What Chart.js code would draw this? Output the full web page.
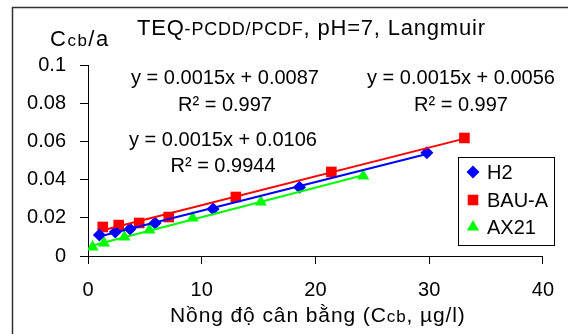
<!DOCTYPE html>
<html>
<head>
<meta charset="utf-8">
<script src="https://cdn.jsdelivr.net/npm/chart.js@4"></script>
<style>
html,body{margin:0;padding:0;background:#fff;}
canvas{display:block;}
</style>
</head>
<body>
<canvas id="c" width="568" height="334" style="width:568px;height:334px"></canvas>
<script>
// ---- data ----
const seriesNames = ['H2', 'BAU-A', 'AX21'];
const h2X   = [1.0, 2.4, 3.7, 5.9, 11.0, 18.6, 29.8];
const h2Y   = [0.0110, 0.0126, 0.0141, 0.0173, 0.0246, 0.0360, 0.0540];
const bauX  = [1.3, 2.7, 4.5, 7.1, 13.0, 21.4, 33.1];
const bauY  = [0.0152, 0.0162, 0.0173, 0.0204, 0.0309, 0.0440, 0.0618];
const ax21X = [0.4, 1.4, 3.2, 5.4, 9.2, 15.2, 24.2];
const ax21Y = [0.0047, 0.0068, 0.0099, 0.0136, 0.0199, 0.0283, 0.0419];
const xTicks = [0, 10, 20, 30, 40];
const xTickLabels = ['0', '10', '20', '30', '40'];
const yTicks = [0, 0.02, 0.04, 0.06, 0.08, 0.1];
const yTickLabels = ['0', '0.02', '0.04', '0.06', '0.08', '0.1'];
const equations = [
  ['y = 0.0015x + 0.0087', 'R² = 0.997'],
  ['y = 0.0015x + 0.0056', 'R² = 0.997'],
  ['y = 0.0015x + 0.0106', 'R² = 0.9944']
];

const FONT = '"Liberation Sans", Arial, sans-serif';
const colors = {'H2': '#0000FF', 'BAU-A': '#FF0000', 'AX21': '#00FF00'};
const styles = {'H2': 'rectRot', 'BAU-A': 'rect', 'AX21': 'triangle'};
const radii  = {'H2': 6.5, 'BAU-A': 7.5, 'AX21': 7};

function pts(xs, ys){ return xs.map((x,i)=>({x:x, y:ys[i]})); }
function fit(xs, ys){
  const n = xs.length;
  const mx = xs.reduce((a,b)=>a+b,0)/n, my = ys.reduce((a,b)=>a+b,0)/n;
  let sxy=0, sxx=0;
  for(let i=0;i<n;i++){ sxy+=(xs[i]-mx)*(ys[i]-my); sxx+=(xs[i]-mx)*(xs[i]-mx); }
  const m = sxy/sxx, b = my - m*mx;
  const x0 = Math.min(...xs), x1 = Math.max(...xs);
  return [{x:x0, y:m*x0+b}, {x:x1, y:m*x1+b}];
}
const seriesData = {'H2':[h2X,h2Y], 'BAU-A':[bauX,bauY], 'AX21':[ax21X,ax21Y]};

const lineSets = seriesNames.map(n=>({
  label: n + ' trend', type:'line', data: fit(seriesData[n][0], seriesData[n][1]),
  borderColor: colors[n], borderWidth: 2, pointRadius: 0, showLine: true, fill:false
}));
const markerSets = seriesNames.map(n=>({
  label: n, data: pts(seriesData[n][0], seriesData[n][1]),
  backgroundColor: colors[n], borderColor: colors[n], borderWidth: 0,
  pointStyle: styles[n], pointRadius: radii[n], showLine:false
}));

// draw text parts (text, size) char by char with extra spacing
function drawRich(ctx, parts, x, y, spacing){
  let cx = x;
  parts.forEach(p=>{
    ctx.font = p[1] + 'px ' + FONT;
    for (const ch of p[0]) {
      ctx.fillText(ch, cx, y);
      cx += ctx.measureText(ch).width + spacing;
    }
  });
  return cx;
}

const decor = {
  id: 'decor',
  beforeDraw(chart){
    const ctx = chart.ctx;
    ctx.save();
    ctx.fillStyle = '#fff';
    ctx.fillRect(0,0,chart.width,chart.height);
    ctx.strokeStyle = '#333';
    ctx.lineWidth = 1.5;
    ctx.strokeRect(12.5, 7.5, 800, 600);
    ctx.restore();
  },
  afterDraw(chart){
    const ctx = chart.ctx;
    ctx.save();
    ctx.fillStyle = '#000';
    ctx.textBaseline = 'alphabetic';
    ctx.textAlign = 'left';
    // title
    drawRich(ctx, [['TEQ',22],['-PCDD/PCDF',18],[', pH=7, Langmuir',22]], 137, 35, 0.8);
    // y-axis title
    drawRich(ctx, [['C',22],['cb',17],['/a',22]], 50, 46, 1.5);
    // x-axis title
    drawRich(ctx, [['Nồng độ cân bằng (C',21],['cb',17],[', µg/l)',21]], 170, 322, 0.9);
    // equations
    ctx.textAlign = 'center';
    ctx.textBaseline = 'middle';
    ctx.font = '20px ' + FONT;
    const pos = [[225,78,105],[461,78,105],[223,140,166]];
    equations.forEach((e,i)=>{
      ctx.fillText(e[0], pos[i][0], pos[i][1]);
      ctx.fillText(e[1], pos[i][0], pos[i][2]);
    });
    // legend
    ctx.fillStyle = '#fff';
    ctx.fillRect(458.5,157.5,96,88);
    ctx.strokeStyle = '#000';
    ctx.lineWidth = 1;
    ctx.strokeRect(458.5,157.5,96,88);
    const ly = [172, 200, 227];
    ctx.textAlign = 'left';
    ctx.textBaseline = 'middle';
    markerSets.forEach((ds,i)=>{
      ctx.fillStyle = ds.backgroundColor;
      ctx.strokeStyle = ds.borderColor;
      Chart.helpers.drawPoint(ctx, {pointStyle: ds.pointStyle, radius: ds.pointRadius, borderWidth: 0, rotation: 0}, 473, ly[i]);
      ctx.fillStyle = '#000';
      ctx.font = '20px ' + FONT;
      ctx.fillText(ds.label, 487, ly[i] + 1);
    });
    ctx.restore();
  }
};

new Chart(document.getElementById('c'), {
  type: 'scatter',
  data: { datasets: lineSets.concat(markerSets) },
  options: {
    responsive: false,
    animation: false,
    layout: { padding: { left: 0, right: 11, top: 65, bottom: 0 } },
    plugins: { legend: { display: false }, tooltip: { enabled: false }, title: { display: false } },
    scales: {
      x: {
        type: 'linear', min: 0, max: 40,
        afterBuildTicks: s => { s.ticks = xTicks.map(v=>({value:v})); },
        afterFit: s => { s.height = 78; },
        ticks: { color: '#000', font: { family: FONT, size: 20 }, padding: 14, maxRotation: 0,
                 callback: (v, i) => xTickLabels[i] },
        grid: { drawOnChartArea: false, drawTicks: true, tickLength: 8, color: '#000', lineWidth: 1 },
        border: { color: '#000', width: 1 }
      },
      y: {
        type: 'linear', min: 0, max: 0.1,
        afterBuildTicks: s => { s.ticks = yTicks.map(v=>({value:v})); },
        afterFit: s => { s.width = 88; },
        ticks: { color: '#000', font: { family: FONT, size: 20 }, padding: 14,
                 callback: (v, i) => yTickLabels[i] },
        grid: { drawOnChartArea: false, drawTicks: true, tickLength: 8, color: '#000', lineWidth: 1 },
        border: { color: '#000', width: 1 }
      }
    }
  },
  plugins: [decor]
});
</script>
</body>
</html>
